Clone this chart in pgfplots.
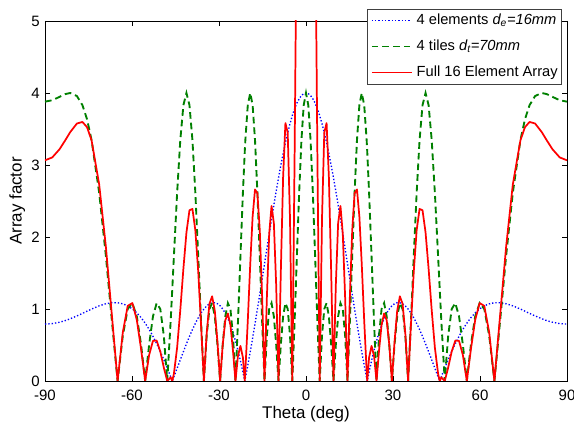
\documentclass[border=0pt]{standalone}
\usepackage{fontspec}
\setmainfont{Liberation Sans}
\usepackage{pgfplots}
\usepackage{pgfplotstable}
\pgfplotsset{compat=1.18}

% array factor: theta (deg), 4 elements, 4 tiles, full array
\pgfplotstableread{
theta blue green red
-90.000 0.790 3.880 3.065
-87.500 0.797 3.899 3.105
-85.000 0.816 3.946 3.218
-83.000 0.839 3.985 3.344
-81.280 0.865 4.000 3.458
-79.000 0.904 3.958 3.576
-77.087 0.939 3.831 3.598
-75.500 0.970 3.635 3.525
-73.942 0.999 3.346 3.343
-71.308 1.044 2.613 2.727
-68.991 1.073 1.732 1.858
-66.897 1.087 0.821 0.893
-64.968 1.087 0.000 0.000
-63.169 1.072 0.630 0.675
-61.476 1.043 1.000 1.043
-59.870 1.001 1.082 1.083
-58.338 0.946 0.897 0.848
-56.870 0.880 0.504 0.444
-55.457 0.803 0.000 0.000
-54.093 0.717 0.504 0.361
-52.773 0.622 0.897 0.557
-51.491 0.519 1.082 0.562
-50.245 0.411 1.000 0.411
-49.030 0.297 0.630 0.187
-47.845 0.180 0.000 0.000
-46.686 0.061 0.821 0.051
-46.100 0.000 1.284 0.000
-45.551 0.058 1.732 0.101
-44.439 0.177 2.613 0.463
-43.347 0.294 3.346 0.984
-42.275 0.408 3.831 1.561
-41.221 0.516 4.000 2.065
-40.183 0.619 3.831 2.371
-39.161 0.714 3.346 2.390
-38.154 0.801 2.613 2.093
-37.160 0.878 1.732 1.521
-36.180 0.945 0.821 0.776
-35.211 0.999 0.000 0.000
-34.254 1.042 0.630 0.657
-33.308 1.071 1.000 1.071
-32.371 1.086 1.082 1.176
-31.445 1.087 0.897 0.975
-30.527 1.073 0.504 0.541
-29.618 1.045 0.000 0.000
-28.718 1.000 0.504 0.505
-27.824 0.941 0.897 0.844
-26.939 0.867 1.082 0.938
-26.060 0.778 1.000 0.778
-25.187 0.674 0.630 0.425
-24.321 0.556 0.000 0.000
-23.461 0.425 0.821 0.349
-22.606 0.281 1.732 0.487
-21.757 0.125 2.613 0.327
-21.117 0.000 3.187 0.000
-20.912 0.041 3.346 0.139
-20.073 0.218 3.831 0.835
-19.237 0.403 4.000 1.613
-18.406 0.596 3.831 2.283
-17.579 0.795 3.346 2.660
-16.756 0.999 2.613 2.610
-15.936 1.206 1.732 2.090
-15.120 1.416 0.821 1.163
-14.307 1.626 0.000 0.000
-13.496 1.836 0.630 1.157
-12.689 2.043 1.000 2.043
-11.884 2.246 1.082 2.431
-11.081 2.445 0.897 2.192
-10.281 2.637 0.504 1.330
-9.482 2.820 0.000 0.000
-8.686 2.994 0.504 1.510
-7.891 3.158 0.897 2.831
-7.097 3.310 1.082 3.582
-6.305 3.449 1.000 3.449
-5.515 3.574 0.630 2.252
-4.725 3.685 0.000 0.000
-3.936 3.780 0.821 3.104
-3.148 3.858 1.732 6.683
-2.360 3.920 2.613 10.243
-1.573 3.964 3.346 13.265
-0.787 3.991 3.831 15.288
0.000 4.000 4.000 16.000
0.787 3.991 3.831 15.288
1.573 3.964 3.346 13.265
2.360 3.920 2.613 10.243
3.148 3.858 1.732 6.683
3.936 3.780 0.821 3.104
4.725 3.685 0.000 0.000
5.515 3.574 0.630 2.252
6.305 3.449 1.000 3.449
7.097 3.310 1.082 3.582
7.891 3.158 0.897 2.831
8.686 2.994 0.504 1.510
9.482 2.820 0.000 0.000
10.281 2.637 0.504 1.330
11.081 2.445 0.897 2.192
11.884 2.246 1.082 2.431
12.689 2.043 1.000 2.043
13.496 1.836 0.630 1.157
14.307 1.626 0.000 0.000
15.120 1.416 0.821 1.163
15.936 1.206 1.732 2.090
16.756 0.999 2.613 2.610
17.579 0.795 3.346 2.660
18.406 0.596 3.831 2.283
19.237 0.403 4.000 1.613
20.073 0.218 3.831 0.835
20.912 0.041 3.346 0.139
21.117 0.000 3.187 0.000
21.757 0.125 2.613 0.327
22.606 0.281 1.732 0.487
23.461 0.425 0.821 0.349
24.321 0.556 0.000 0.000
25.187 0.674 0.630 0.425
26.060 0.778 1.000 0.778
26.939 0.867 1.082 0.938
27.824 0.941 0.897 0.844
28.718 1.000 0.504 0.505
29.618 1.045 0.000 0.000
30.527 1.073 0.504 0.541
31.445 1.087 0.897 0.975
32.371 1.086 1.082 1.176
33.308 1.071 1.000 1.071
34.254 1.042 0.630 0.657
35.211 0.999 0.000 0.000
36.180 0.945 0.821 0.776
37.160 0.878 1.732 1.521
38.154 0.801 2.613 2.093
39.161 0.714 3.346 2.390
40.183 0.619 3.831 2.371
41.221 0.516 4.000 2.065
42.275 0.408 3.831 1.561
43.347 0.294 3.346 0.984
44.439 0.177 2.613 0.463
45.551 0.058 1.732 0.101
46.100 0.000 1.284 0.000
46.686 0.061 0.821 0.051
47.845 0.180 0.000 0.000
49.030 0.297 0.630 0.187
50.245 0.411 1.000 0.411
51.491 0.519 1.082 0.562
52.773 0.622 0.897 0.557
54.093 0.717 0.504 0.361
55.457 0.803 0.000 0.000
56.870 0.880 0.504 0.444
58.338 0.946 0.897 0.848
59.870 1.001 1.082 1.083
61.476 1.043 1.000 1.043
63.169 1.072 0.630 0.675
64.968 1.087 0.000 0.000
66.897 1.087 0.821 0.893
68.991 1.073 1.732 1.858
71.308 1.044 2.613 2.727
73.942 0.999 3.346 3.343
75.500 0.970 3.635 3.525
77.087 0.939 3.831 3.598
79.000 0.904 3.958 3.576
81.280 0.865 4.000 3.458
83.000 0.839 3.985 3.344
85.000 0.816 3.946 3.218
87.500 0.797 3.899 3.105
90.000 0.790 3.880 3.065
}\afdata

\begin{document}
\begin{tikzpicture}
\begin{axis}[
  scale only axis, width=391.5pt, height=270pt,
  xmin=-90, xmax=90, ymin=0, ymax=5,
  xtick={-90,-60,-30,0,30,60,90},
  ytick={0,1,2,3,4,5},
  /pgf/number format/assume math mode=true,
  tick label style={font=\fontsize{11.25}{13}\selectfont},
  xticklabel style={anchor=base, yshift=-14.8pt, inner sep=0pt},
  yticklabel style={anchor=east, xshift=-3.75pt, inner sep=0pt},
  major tick length=3.75pt,
  tick style={black, line width=0.5pt},
  axis line style={line width=0.6pt},
  xlabel={Theta (deg)}, ylabel={Array factor},
  every axis x label/.style={at={(axis description cs:0.5,0)}, anchor=base,
    yshift=-28.5pt, font=\fontsize{12.7}{15}\selectfont},
  every axis y label/.style={at={(axis description cs:-0.045,0.5)}, anchor=base,
    rotate=90, font=\fontsize{12.7}{15}\selectfont},
  legend style={at={(axis description cs:0.9904,1.034)}, anchor=north east,
    draw=black!75, fill=white,
    font=\fontsize{11}{13}\selectfont,
    inner xsep=3pt, inner ysep=3.4pt, row sep=9pt, column sep=3pt,
    nodes={inner sep=0pt, text height=8pt, text depth=2.5pt}},
  legend cell align=left,
  legend image code/.code={\draw[#1] (0pt,0pt) -- (30pt,0pt);},
]
\addplot[blue, line width=1pt, dash pattern=on 1pt off 1.5pt]
  table[x=theta, y=blue] {\afdata};
\addlegendentry{4 elements \textit{d\textsubscript{e}=16mm}}
\addplot[green!50!black, line width=1.4pt, dash pattern=on 5pt off 3pt]
  table[x=theta, y=green] {\afdata};
\addlegendentry{4 tiles \textit{d\textsubscript{t}=70mm}}
\addplot[red, line width=1.3pt, line join=round]
  table[x=theta, y=red] {\afdata};
\addlegendentry{Full 16 Element Array}
\end{axis}
\pgfresetboundingbox
\path[use as bounding box] (-33.75pt,-34.5pt) rectangle (396.75pt,285.75pt);
\end{tikzpicture}
\end{document}
